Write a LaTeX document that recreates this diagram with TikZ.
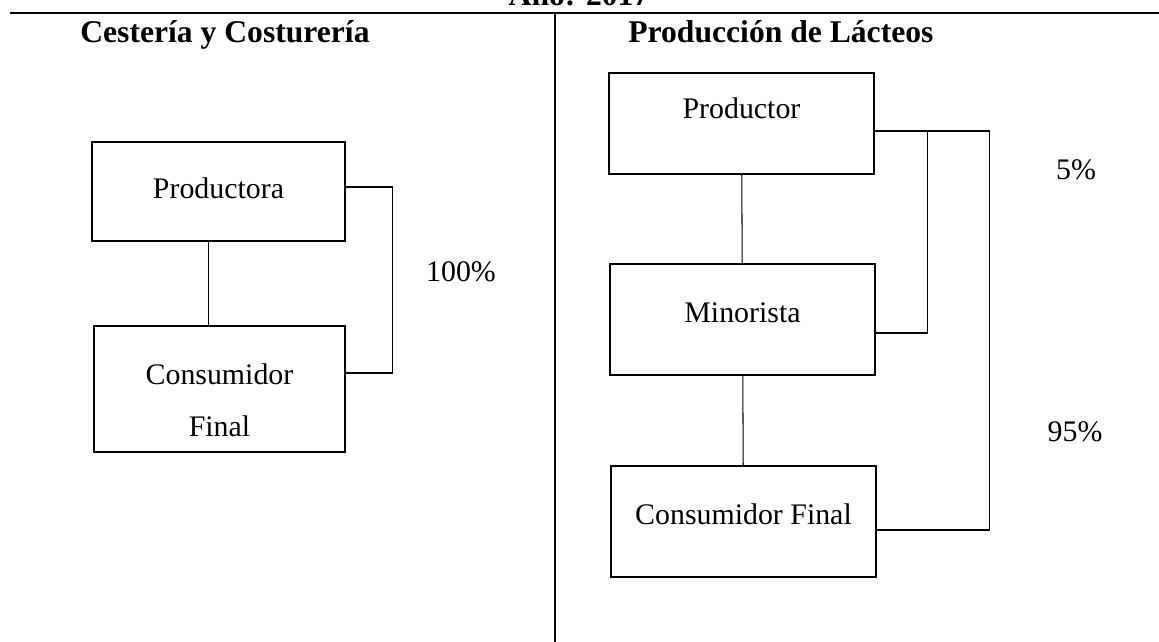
\documentclass[tikz,border=0pt]{standalone}
\usepackage{fontspec}
\setmainfont{Liberation Serif}
\begin{document}
\begin{tikzpicture}[x=0.02cm,y=-0.02cm]

    \tikzset{
      caja/.style={
        draw,
        line width=0.6pt,
        inner sep=0pt,
        minimum width=265*0.02cm,
        font=\fontsize{17}{20}\selectfont,
        text height=12pt,
      },
      titulo/.style={
        anchor=base west,
        inner sep=0pt,
        font=\fontsize{18}{21}\selectfont\bfseries,
      },
      porc/.style={
        font=\fontsize{17}{20}\selectfont,
      },
      linea/.style={line width=0.6pt},
    }
    \useasboundingbox (0,0) rectangle (1159,642);
    \clip (0,0) rectangle (1159,642);
	\node [anchor=base, font=\fontsize{18}{21}\selectfont\bfseries] (anio) at (579,6) {Año: 2017};
	\draw [line width=1pt] (10,13) -- (1159,13);
	\draw [line width=1pt] (555,13) -- (555,642);
	\node [titulo] (t1) at (80,43) {Cestería y Costurería};
	\node [titulo] (t2) at (628,43) {Producción de Lácteos};
	% Cesteria
	\node [caja, minimum width=253*0.02cm, minimum height=99*0.02cm, text depth=4pt] (pa) at (218.5,191.5) {Productora};
	\node [caja, minimum width=251*0.02cm, minimum height=126*0.02cm, align=center, text height=, text depth=] (cfa) at (219.5,389) {\rule{0pt}{25pt}Consumidor\\[9.6pt]Final};
	\draw [linea] ([xshift=-0.2cm]pa.south) -- ([xshift=-0.2cm]pa.south |- cfa.north);
	\draw [linea] ([yshift=0.09cm]pa.east) -- ++(47,0) |- ([yshift=0.32cm]cfa.east);
	\node [porc] (p100) at (461,272) {100\%};
	% Lacteos
	\node [caja, minimum height=101*0.02cm, text depth=17.4pt] (pr) at (741.5,123.5) {Productor};
	\node [caja, minimum height=111*0.02cm, text depth=8.2pt] (mi) at (742.5,319.5) {Minorista};
	\node [caja, minimum height=111*0.02cm, text depth=8.2pt] (cfb) at (743.5,521.5) {Consumidor Final};
	\draw [linea] (pr) -- (mi);
	\draw [linea] (mi) -- (cfb);
	\draw [linea] ([yshift=-0.15cm]pr.east) -- ++(115,0) |- ([yshift=-0.17cm]cfb.east);
	\draw [linea] ([yshift=-0.27cm]mi.east) -- ++(52,0) |- ([yshift=-0.15cm]pr.east);
	\node [porc] (p5) at (1076,170) {5\%};
	\node [porc] (p95) at (1075,432) {95\%};

\end{tikzpicture}
\end{document}
